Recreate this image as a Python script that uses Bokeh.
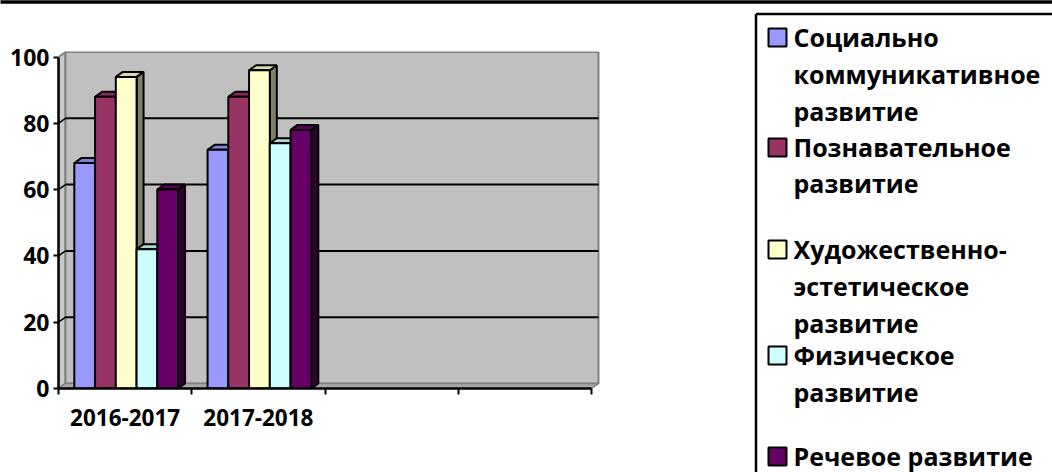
from bokeh.plotting import figure
from bokeh.models import Range1d, FixedTicker
from bokeh.embed import file_html
from bokeh.resources import INLINE
from bokeh.core.properties import value

# ---------------- data ----------------
categories = ["2016-2017", "2017-2018", "", ""]
series_names = [
    "Социально коммуникативное развитие",
    "Познавательное развитие",
    "Художественно-эстетическое развитие",
    "Физическое развитие",
    "Речевое развитие",
]
social = [68, 72]
cognitive = [88, 88]
artistic = [94, 96]
physical = [42, 74]
speech = [60, 78]
series_values = [social, cognitive, artistic, physical, speech]
y_ticks = [0, 20, 40, 60, 80, 100]
colors = ["#9999FF", "#993366", "#FFFFCC", "#CCFFFF", "#660066"]

# legend text as wrapped in the original
legend_lines = [
    ["Социально", "коммуникативное", "развитие"],
    ["Познавательное", "развитие"],
    ["Художественно-", "эстетическое", "развитие"],
    ["Физическое", "развитие"],
    ["Речевое развитие"],
]

FONT = value("Open Sans")


def shade(hex_color, f):
    h = hex_color.lstrip("#")
    r, g, b = (int(h[i:i + 2], 16) for i in (0, 2, 4))
    return "#%02x%02x%02x" % (int(r * f), int(g * f), int(b * f))


# ---------------- chart ----------------
W, H = 1052, 472
n_slots = len(categories)
px_per_x = 133.25
px_per_y = 3.315
dxd = 7 / px_per_x      # 3D depth offset (x)
dyd = 5 / px_per_y      # 3D depth offset (y)
y_max = 100

FL, FR, FT, FB = 58, 600, 51, 388   # frame edges in canvas pixels

p = figure(width=W, height=H, title=None,
           x_range=Range1d(0, (FR - FL) / px_per_x), y_range=Range1d(0, (FB - FT) / px_per_y),
           output_backend="svg", toolbar_location=None,
           min_border_left=FL, min_border_right=W - FR,
           min_border_top=FT, min_border_bottom=H - FB)
p.extra_x_ranges = {"px": Range1d(FL, FR)}
p.extra_y_ranges = {"px": Range1d(FB, FT)}
p.xgrid.visible = False
p.ygrid.visible = False
p.outline_line_color = None
p.background_fill_color = "white"
p.border_fill_color = "white"

# walls and floor
p.patch([0, dxd, dxd, 0], [0, dyd, y_max + dyd, y_max],
        fill_color="#c8c8c8", line_color="#808080", line_width=2)
p.quad(left=dxd, right=n_slots + dxd, bottom=dyd, top=y_max + dyd,
       fill_color="#c0c0c0", line_color="#808080", line_width=2)
p.patch([0, n_slots, n_slots + dxd, dxd], [0, 0, dyd, dyd],
        fill_color="#a8a8a8", line_color="#808080", line_width=1.5)

grid_vals = [v for v in y_ticks if 0 < v < y_max]
p.segment(x0=[dxd] * len(grid_vals), y0=[v + dyd for v in grid_vals],
          x1=[n_slots + dxd] * len(grid_vals), y1=[v + dyd for v in grid_vals],
          line_color="black", line_width=2)
p.segment(x0=[0] * len(grid_vals), y0=grid_vals,
          x1=[dxd] * len(grid_vals), y1=[v + dyd for v in grid_vals],
          line_color="black", line_width=1.5)

# bars
step = 20.75 / px_per_x
n_series = len(series_values)
for s, vals in enumerate(series_values):
    cxs = [c + 0.5 + (s - (n_series - 1) / 2) * step + 0.008 for c in range(len(vals))]
    Ls = [cx - step / 2 for cx in cxs]
    Rs = [cx + step / 2 for cx in cxs]
    side_xs = [[R, R + dxd, R + dxd, R] for R in Rs]
    side_ys = [[0, dyd, v + dyd, v] for v in vals]
    top_xs = [[L, R, R + dxd, L + dxd] for L, R in zip(Ls, Rs)]
    top_ys = [[v, v, v + dyd, v + dyd] for v in vals]
    p.patches(side_xs, side_ys, fill_color=shade(colors[s], 0.5),
              line_color="black", line_width=2)
    p.patches(top_xs, top_ys, fill_color=shade(colors[s], 0.85),
              line_color="black", line_width=2)
    p.vbar(x=cxs, width=step, bottom=0, top=vals, fill_color=colors[s],
           line_color="black", line_width=2)

# axes
xa = p.xaxis[0]
xa.ticker = FixedTicker(ticks=[i + 0.5 for i in range(n_slots)],
                        minor_ticks=list(range(n_slots + 1)))
xa.major_label_overrides = {i + 0.5: c for i, c in enumerate(categories)}
xa.bounds = (0, n_slots)
xa.axis_line_width = 2.5
xa.axis_line_color = "black"
xa.major_tick_out = 0
xa.major_tick_in = 0
xa.minor_tick_out = 6
xa.minor_tick_in = 0
xa.minor_tick_line_width = 2
xa.minor_tick_line_color = "black"
xa.major_label_text_font = "Open Sans"
xa.major_label_text_font_style = "bold"
xa.major_label_text_font_size = "22.5px"
xa.major_label_text_color = "black"
xa.major_label_standoff = 14

ya = p.yaxis[0]
ya.ticker = FixedTicker(ticks=y_ticks, minor_ticks=[])
ya.bounds = (0, y_max)
ya.axis_line_width = 2.5
ya.axis_line_color = "black"
ya.major_tick_out = 5
ya.major_tick_in = 0
ya.major_tick_line_width = 2
ya.major_tick_line_color = "black"
ya.major_label_text_font = "Open Sans"
ya.major_label_text_font_style = "bold"
ya.major_label_text_font_size = "23px"
ya.major_label_text_color = "black"
ya.major_label_standoff = 4

# ---------------- frame band + legend (canvas-pixel coordinates via "px" ranges) ----------------
p.segment(x0=[0], y0=[1.5], x1=[W], y1=[1.5], line_color="black", line_width=3.5,
          x_range_name="px", y_range_name="px", level="overlay")

box_left, box_top = 755.5, 13.5
p.segment(x0=[box_left, box_left], y0=[box_top, box_top],
          x1=[W + 5, box_left], y1=[box_top, H + 5], line_color="black", line_width=2.5,
          x_range_name="px", y_range_name="px", level="overlay")

baselines = [[47, 84, 121], [157, 193], [259, 296, 333], [365, 402], [466]]
text_shift = -11   # renderer places the text lower than the given baseline
text_x, text_y, text_s = [], [], []
for lines, bls in zip(legend_lines, baselines):
    for t, b in zip(lines, bls):
        text_x.append(793)
        text_y.append(b + text_shift)
        text_s.append(t)
p.text(x=text_x, y=text_y, text=text_s, text_font=FONT, text_font_style="bold",
       text_font_size="25px", text_baseline="alphabetic", text_align="left",
       text_color="black", x_range_name="px", y_range_name="px", level="overlay")

mk_bottom = [bls[0] - 1 for bls in baselines]
p.quad(left=[768] * len(colors), right=[786] * len(colors),
       top=[b - 18 for b in mk_bottom], bottom=mk_bottom,
       fill_color=colors, line_color="black", line_width=2,
       x_range_name="px", y_range_name="px", level="overlay")

open("out.html", "w").write(file_html(p, INLINE))
